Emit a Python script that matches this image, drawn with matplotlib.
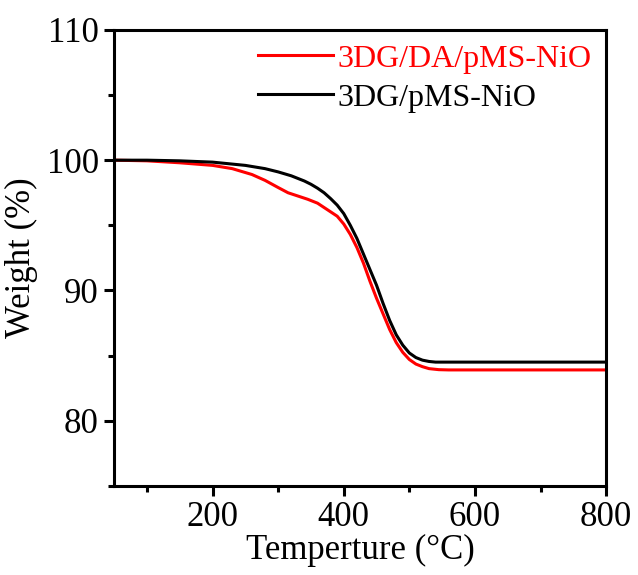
import numpy as np
import matplotlib.pyplot as plt
from matplotlib.ticker import MultipleLocator

plt.rcParams['font.family'] = ['Liberation Serif', 'DejaVu Serif']
plt.rcParams['mathtext.fontset'] = 'stix'

# TGA curves (temperature in degC, weight in %)
temp_pms = [50, 100, 150, 200, 250, 280, 300, 320, 340, 350, 360, 370, 380,
            390, 400, 410, 420, 430, 440, 450, 460, 470, 480, 490, 500, 510,
            520, 530, 540, 560, 600, 700, 800]
weight_pms = [100, 100, 99.95, 99.85, 99.6, 99.35, 99.1, 98.8, 98.4, 98.15,
              97.85, 97.5, 97.05, 96.55, 95.9, 95.0, 94.0, 92.8, 91.6, 90.4,
              89.0, 87.7, 86.6, 85.8, 85.2, 84.85, 84.65, 84.55, 84.5, 84.5,
              84.5, 84.5, 84.5]

temp_da = [50, 100, 150, 200, 230, 260, 280, 300, 315, 330, 345, 360, 375,
           390, 400, 410, 420, 430, 440, 450, 460, 470, 480, 490, 500, 510,
           520, 530, 545, 560, 600, 700, 800]
weight_da = [100, 99.95, 99.8, 99.6, 99.35, 98.9, 98.45, 97.9, 97.5, 97.25,
             97.0, 96.7, 96.2, 95.7, 95.1, 94.3, 93.3, 92.1, 90.7, 89.4,
             88.2, 87.0, 86.0, 85.25, 84.7, 84.35, 84.15, 84.0, 83.92, 83.9,
             83.9, 83.9, 83.9]

fig = plt.figure(figsize=(6.38, 5.75), dpi=100)
ax = fig.add_axes([0.179, 0.155, 0.771, 0.793])

ax.plot(temp_da, weight_da, color='#ff0000', lw=2.2, label='3DG/DA/pMS-NiO')
ax.plot(temp_pms, weight_pms, color='black', lw=2.2, label='3DG/pMS-NiO')

ax.set_xlim(50, 800)
ax.set_ylim(75, 110)
ax.xaxis.set_major_locator(MultipleLocator(200))
ax.xaxis.set_minor_locator(MultipleLocator(100))
ax.yaxis.set_major_locator(MultipleLocator(10))
ax.yaxis.set_minor_locator(MultipleLocator(5))
ax.set_yticks([80, 90, 100, 110])

for s in ax.spines.values():
    s.set_linewidth(2.2)
ax.tick_params(which='major', direction='out', length=7, width=2.2,
               labelsize=25, pad=4)
ax.tick_params(which='minor', direction='out', length=4, width=2.2)

ax.set_xlabel('Temperture (°C)', fontsize=25, labelpad=0)
ax.set_ylabel('Weight (%)', fontsize=25, labelpad=6)

leg = ax.legend(loc='upper right', frameon=False, fontsize=23,
                handlelength=2.35, handletextpad=0.15, labelspacing=0.3,
                borderaxespad=0.1, borderpad=0.35)
for txt, line in zip(leg.get_texts(), leg.get_lines()):
    txt.set_color(line.get_color())

fig.savefig('out.png', dpi=100)
